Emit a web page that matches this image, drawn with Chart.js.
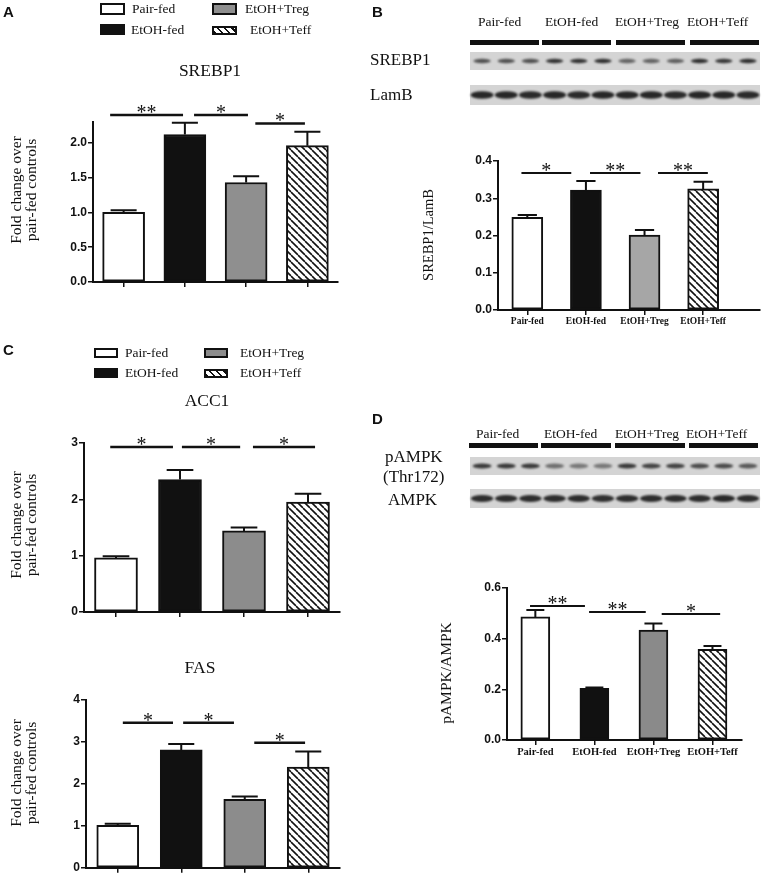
<!DOCTYPE html>
<html>
<head>
<meta charset="utf-8">
<script src="https://cdn.jsdelivr.net/npm/chart.js@4.4.1/dist/chart.umd.min.js"></script>
<style>
body { margin: 0; background: #fff; }
#fig { position: relative; width: 766px; height: 876px; overflow: hidden; font-family: "Liberation Serif", "Times New Roman", serif; color: #111; }
#blots { position: absolute; left: 0; top: 0; }
.abs { position: absolute; white-space: nowrap; }
.letter { font-family: "Liberation Sans", Arial, sans-serif; font-weight: bold; font-size: 15px; line-height: 1; }
.ctr { transform: translate(-50%, -50%); }
.mid { transform: translateY(-50%); }
.title { font-size: 17.5px; }
.vlab { transform: translate(-50%, -50%) rotate(-90deg); text-align: center; font-size: 15.5px; line-height: 15px; }
.box { position: absolute; box-sizing: border-box; border: 2px solid #111; }
.lt { font-size: 13.5px; }
.bl { font-size: 17px; }
.hd { font-size: 13.5px; }
.chart { position: absolute; }
</style>
</head>
<body>
<div id="fig">
  <canvas id="blots" width="766" height="876"></canvas>

  <!-- panel A -->
  <div class="abs letter" style="left:3px;top:4px">A</div>
  <div class="box" style="left:100px;top:3px;width:25px;height:12px;background:#fff"></div>
  <div class="abs lt mid" style="left:132px;top:9px">Pair-fed</div>
  <div class="box" style="left:100px;top:24px;width:25px;height:11px;background:#111"></div>
  <div class="abs lt mid" style="left:131px;top:30px">EtOH-fed</div>
  <div class="box" style="left:212px;top:3px;width:25px;height:12px;background:#8f8f8f"></div>
  <div class="abs lt mid" style="left:245px;top:9px">EtOH+Treg</div>
  <div class="box" style="left:212px;top:26px;width:25px;height:9px;background:repeating-linear-gradient(45deg,#111 0 2px,#fff 2px 5px)"></div>
  <div class="abs lt mid" style="left:250px;top:30px">EtOH+Teff</div>
  <div class="abs title ctr" style="left:210px;top:70px">SREBP1</div>
  <div class="abs vlab" style="left:23px;top:190px">Fold change over<br>pair-fed controls</div>
  <div class="chart" id="boxA"><canvas id="chartA"></canvas></div>

  <!-- panel B -->
  <div class="abs letter" style="left:372px;top:4px">B</div>
  <div class="abs hd mid" style="left:478px;top:22px">Pair-fed</div>
  <div class="abs hd mid" style="left:545px;top:22px">EtOH-fed</div>
  <div class="abs hd mid" style="left:615px;top:22px">EtOH+Treg</div>
  <div class="abs hd mid" style="left:687px;top:22px">EtOH+Teff</div>
  <div class="abs bl mid" style="left:370px;top:60px">SREBP1</div>
  <div class="abs bl mid" style="left:370px;top:95px">LamB</div>
  <div class="abs vlab" style="left:428px;top:235px;font-size:14.5px">SREBP1/LamB</div>
  <div class="chart" id="boxB"><canvas id="chartB"></canvas></div>

  <!-- panel C -->
  <div class="abs letter" style="left:3px;top:342px">C</div>
  <div class="box" style="left:94px;top:348px;width:24px;height:10px;background:#fff"></div>
  <div class="abs lt mid" style="left:125px;top:353px">Pair-fed</div>
  <div class="box" style="left:94px;top:368px;width:24px;height:10px;background:#111"></div>
  <div class="abs lt mid" style="left:125px;top:373px">EtOH-fed</div>
  <div class="box" style="left:204px;top:348px;width:24px;height:10px;background:#8c8c8c"></div>
  <div class="abs lt mid" style="left:240px;top:353px">EtOH+Treg</div>
  <div class="box" style="left:204px;top:369px;width:24px;height:9px;background:repeating-linear-gradient(45deg,#111 0 2px,#fff 2px 5px)"></div>
  <div class="abs lt mid" style="left:240px;top:373px">EtOH+Teff</div>
  <div class="abs title ctr" style="left:207px;top:400px">ACC1</div>
  <div class="abs vlab" style="left:23px;top:525px">Fold change over<br>pair-fed controls</div>
  <div class="chart" id="boxC"><canvas id="chartC"></canvas></div>

  <div class="abs title ctr" style="left:200px;top:667px">FAS</div>
  <div class="abs vlab" style="left:23px;top:773px">Fold change over<br>pair-fed controls</div>
  <div class="chart" id="boxF"><canvas id="chartF"></canvas></div>

  <!-- panel D -->
  <div class="abs letter" style="left:372px;top:411px">D</div>
  <div class="abs hd mid" style="left:476px;top:434px">Pair-fed</div>
  <div class="abs hd mid" style="left:544px;top:434px">EtOH-fed</div>
  <div class="abs hd mid" style="left:615px;top:434px">EtOH+Treg</div>
  <div class="abs hd mid" style="left:686px;top:434px">EtOH+Teff</div>
  <div class="abs bl mid" style="left:385px;top:457px">pAMPK</div>
  <div class="abs bl mid" style="left:383px;top:477px">(Thr172)</div>
  <div class="abs bl mid" style="left:388px;top:500px">AMPK</div>
  <div class="abs vlab" style="left:445px;top:673px">pAMPK/AMPK</div>
  <div class="chart" id="boxD"><canvas id="chartD"></canvas></div>
</div>

<script>
// groups
const groups = ['Pair-fed', 'EtOH-fed', 'EtOH+Treg', 'EtOH+Teff'];

// A: SREBP1 mRNA
const srebp1Mrna = [1.00, 2.12, 1.43, 1.96];
const srebp1MrnaSem = [0.03, 0.17, 0.09, 0.20];
const srebp1MrnaTicks = [0.0, 0.5, 1.0, 1.5, 2.0];
const srebp1MrnaSig = [[-0.22, 0.97, 2.40, '**'], [1.15, 2.03, 2.40, '*'], [2.15, 2.96, 2.28, '*']];

// B: SREBP1 / LamB
const srebp1Protein = [0.249, 0.322, 0.201, 0.325];
const srebp1ProteinSem = [0.006, 0.024, 0.014, 0.019];
const srebp1ProteinTicks = [0.0, 0.1, 0.2, 0.3, 0.4];
const srebp1ProteinSig = [[-0.10, 0.75, 0.368, '*'], [1.07, 1.93, 0.368, '**'], [2.23, 3.08, 0.368, '**']];

// C: ACC1 mRNA
const acc1Mrna = [0.96, 2.35, 1.44, 1.95];
const acc1MrnaSem = [0.03, 0.17, 0.06, 0.15];
const acc1Ticks = [0, 1, 2, 3];
const acc1Sig = [[-0.09, 0.89, 2.93, '*'], [1.03, 1.94, 2.93, '*'], [2.14, 3.11, 2.93, '*']];

// C: FAS mRNA
const fasMrna = [1.01, 2.81, 1.63, 2.40];
const fasMrnaSem = [0.04, 0.14, 0.07, 0.37];
const fasTicks = [0, 1, 2, 3, 4];
const fasSig = [[0.08, 0.87, 3.46, '*'], [1.03, 1.83, 3.46, '*'], [2.15, 2.95, 2.98, '*']];

// D: pAMPK / AMPK
const pampkRatio = [0.486, 0.204, 0.434, 0.358];
const pampkRatioSem = [0.027, 0.003, 0.026, 0.013];
const pampkTicks = [0.0, 0.2, 0.4, 0.6];
const pampkSig = [[-0.09, 0.84, 0.529, '**'], [0.91, 1.87, 0.505, '**'], [2.14, 3.13, 0.497, '*']];

// blot band darkness, 3 lanes per group
const srebp1Bands = [0.72, 0.72, 0.72, 0.88, 0.88, 0.9, 0.62, 0.62, 0.64, 0.9, 0.86, 0.9];
const lamBBands = [0.95, 0.95, 0.93, 0.95, 0.93, 0.95, 0.95, 0.95, 0.93, 0.95, 0.95, 0.93];
const pampkBands = [0.85, 0.85, 0.85, 0.55, 0.5, 0.5, 0.85, 0.8, 0.8, 0.75, 0.75, 0.68];
const ampkBands = [0.92, 0.92, 0.92, 0.92, 0.92, 0.9, 0.92, 0.92, 0.92, 0.92, 0.94, 0.92];

/* ------------------------------------------------
# BLOTS
-------------------------------------------------*/
const bctx = document.querySelector('#blots').getContext('2d');

function drawBlot(x0, y0, w, h, bands, bandH, bandW) {
    bctx.fillStyle = '#d4d4d4';
    bctx.fillRect(x0, y0, w, h);
    let lane = w / bands.length;
    bctx.save();
    bctx.filter = 'blur(0.9px)';
    bands.forEach((v, i) => {
        bctx.fillStyle = `rgba(30,30,30,${v})`;
        bctx.beginPath();
        bctx.ellipse(x0 + lane * (i + 0.5), y0 + h / 2, lane * bandW / 2, bandH / 2, 0, 0, Math.PI * 2);
        bctx.fill();
    });
    bctx.restore();
}

function drawHeaderBars(y, segs) {
    bctx.fillStyle = '#111';
    segs.forEach(s => bctx.fillRect(s[0], y, s[1] - s[0], 5));
}

drawHeaderBars(40, [[470, 539], [542, 611], [616, 685], [690, 759]]);
drawBlot(470, 52, 290, 18, srebp1Bands, 4.5, 0.72);
drawBlot(470, 85, 290, 20, lamBBands, 7.5, 0.96);

drawHeaderBars(443, [[469, 538], [541, 611], [615, 685], [689, 758]]);
drawBlot(470, 457, 290, 18, pampkBands, 5, 0.78);
drawBlot(470, 489, 290, 19, ampkBands, 7, 0.94);

/* ------------------------------------------------
# BAR CHARTS
-------------------------------------------------*/
function hatch() {
    let c = document.createElement('canvas');
    c.width = 7; c.height = 7;
    let g = c.getContext('2d');
    g.fillStyle = '#fff';
    g.fillRect(0, 0, 7, 7);
    g.strokeStyle = '#111';
    g.lineWidth = 1.6;
    [-7, 0, 7].forEach(o => {
        g.beginPath(); g.moveTo(o, 0); g.lineTo(o + 7, 7); g.stroke();
    });
    return bctx.createPattern(c, 'repeat');
}

// error bars + significance lines
const annotate = {
    id: 'annotate',
    afterDatasetsDraw(chart, args, o) {
        let ctx = chart.ctx;
        let xs = chart.scales.x, ys = chart.scales.y;
        ctx.save();
        ctx.strokeStyle = '#111';
        ctx.lineWidth = 2;
        chart.getDatasetMeta(0).data.forEach((bar, i) => {
            let top = ys.getPixelForValue(o.values[i] + o.sem[i]);
            let cap = bar.width * 0.62;
            ctx.beginPath();
            ctx.moveTo(bar.x, bar.y);
            ctx.lineTo(bar.x, top);
            ctx.moveTo(bar.x - cap / 2, top);
            ctx.lineTo(bar.x + cap / 2, top);
            ctx.stroke();
        });
        ctx.lineWidth = o.sigWidth;
        ctx.fillStyle = '#111';
        ctx.font = '20px "Liberation Serif"';
        ctx.textAlign = 'center';
        ctx.textBaseline = 'alphabetic';
        o.sig.forEach(([a, b, h, label]) => {
            let x1 = xs.getPixelForValue(a), x2 = xs.getPixelForValue(b), y = ys.getPixelForValue(h);
            ctx.beginPath();
            ctx.moveTo(x1, y);
            ctx.lineTo(x2, y);
            ctx.stroke();
            ctx.fillText(label, (x1 + x2) / 2, y + 4);
        });
        ctx.restore();
    }
};

function barChart(id, box, cfg) {
    let yW = 40, padTop = cfg.padTop;
    let el = document.querySelector(box);
    el.style.left = (cfg.area[0] - yW) + 'px';
    el.style.top = (cfg.area[1] - padTop) + 'px';
    el.style.width = (cfg.area[2] + cfg.padRight - cfg.area[0] + yW) + 'px';
    el.style.height = (cfg.area[3] + cfg.xH - cfg.area[1] + padTop) + 'px';

    new Chart(document.querySelector(id), {
        type: 'bar',
        data: {
            datasets: [{
                data: cfg.values.map((v, i) => ({ x: i, y: v })),
                backgroundColor: ['#fff', '#111', cfg.grey, hatch()],
                borderColor: '#111',
                borderWidth: 2,
                borderSkipped: false,
                barThickness: cfg.barW
            }]
        },
        options: {
            responsive: true,
            maintainAspectRatio: false,
            animation: false,
            layout: { padding: { top: padTop, right: cfg.padRight, left: 0, bottom: 0 } },
            plugins: {
                legend: { display: false },
                tooltip: { enabled: false },
                annotate: { values: cfg.values, sem: cfg.sem, sig: cfg.sig, sigWidth: cfg.sigWidth }
            },
            scales: {
                x: {
                    type: 'linear',
                    min: cfg.xRange[0],
                    max: cfg.xRange[1],
                    offset: false,
                    grid: { drawOnChartArea: false, drawTicks: true, tickLength: 5, color: '#111', lineWidth: 1.5, offset: false },
                    border: { display: true, color: '#111', width: 2 },
                    afterBuildTicks: s => { s.ticks = groups.map((g, i) => ({ value: i })); },
                    afterFit: s => { s.height = cfg.xH; },
                    ticks: {
                        display: cfg.xLabels,
                        autoSkip: false,
                        maxRotation: 0,
                        padding: 1,
                        color: '#111',
                        font: { family: 'Liberation Serif', weight: 'bold', size: cfg.xFont },
                        callback: v => groups[v]
                    }
                },
                y: {
                    min: 0,
                    max: cfg.yMax,
                    grid: { drawOnChartArea: false, drawTicks: true, tickLength: 5, color: '#111', lineWidth: 1.5 },
                    border: { display: true, color: '#111', width: 2 },
                    afterBuildTicks: s => { s.ticks = cfg.ticks.map(v => ({ value: v })); },
                    afterFit: s => { s.width = yW; },
                    ticks: {
                        padding: 1,
                        color: '#111',
                        font: { family: 'Liberation Sans', weight: 'bold', size: 12 },
                        callback: v => v.toFixed(cfg.dec)
                    }
                }
            }
        },
        plugins: [annotate]
    });
}

barChart('#chartA', '#boxA', {
    area: [93, 122, 338, 282], padTop: 35, xH: 10, padRight: 10, xRange: [-0.5, 3.5], barW: 42,
    values: srebp1Mrna, sem: srebp1MrnaSem, sig: srebp1MrnaSig, sigWidth: 2.5,
    yMax: 2.3, ticks: srebp1MrnaTicks, dec: 1, grey: '#8f8f8f', xLabels: false, xFont: 10
});

barChart('#chartB', '#boxB', {
    area: [498, 161, 760, 310], padTop: 12, xH: 26, padRight: 4, xRange: [-0.5, 3.97], barW: 31,
    values: srebp1Protein, sem: srebp1ProteinSem, sig: srebp1ProteinSig, sigWidth: 2,
    yMax: 0.4, ticks: srebp1ProteinTicks, dec: 1, grey: '#a6a6a6', xLabels: true, xFont: 9.5
});

barChart('#chartC', '#boxC', {
    area: [84, 443, 340, 612], padTop: 12, xH: 10, padRight: 10, xRange: [-0.5, 3.5], barW: 43,
    values: acc1Mrna, sem: acc1MrnaSem, sig: acc1Sig, sigWidth: 2.5,
    yMax: 3, ticks: acc1Ticks, dec: 0, grey: '#8c8c8c', xLabels: false, xFont: 10
});

barChart('#chartF', '#boxF', {
    area: [86, 700, 340, 868], padTop: 12, xH: 8, padRight: 10, xRange: [-0.5, 3.5], barW: 42,
    values: fasMrna, sem: fasMrnaSem, sig: fasSig, sigWidth: 2.5,
    yMax: 4, ticks: fasTicks, dec: 0, grey: '#8c8c8c', xLabels: false, xFont: 10
});

barChart('#chartD', '#boxD', {
    area: [507, 588, 742, 740], padTop: 12, xH: 26, padRight: 10, xRange: [-0.48, 3.5], barW: 29,
    values: pampkRatio, sem: pampkRatioSem, sig: pampkSig, sigWidth: 2,
    yMax: 0.6, ticks: pampkTicks, dec: 1, grey: '#8a8a8a', xLabels: true, xFont: 10.5
});
</script>
</body>
</html>
